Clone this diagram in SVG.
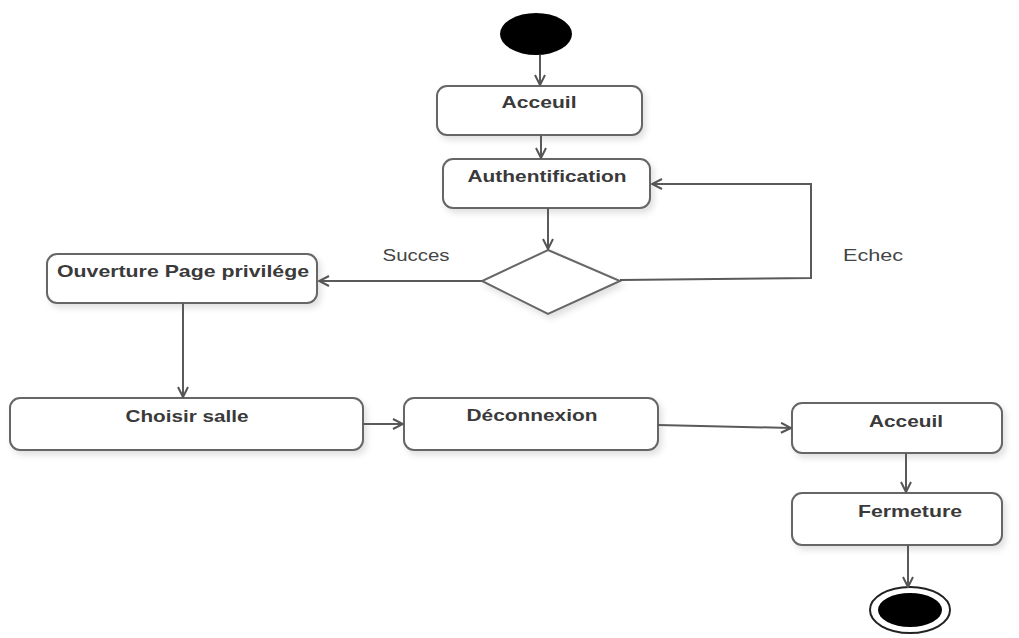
<svg xmlns="http://www.w3.org/2000/svg" width="1019" height="638" viewBox="0 0 1019 638">
  <defs>
    <marker id="arrow" viewBox="0 0 12 12" refX="11" refY="6" markerWidth="12" markerHeight="12" markerUnits="userSpaceOnUse" orient="auto">
      <polyline points="1,1 11,6 1,11" fill="none" stroke="#555" stroke-width="2"/>
    </marker>
    <filter id="shadow" x="-5%" y="-10%" width="115%" height="140%">
      <feDropShadow dx="3" dy="4" stdDeviation="3" flood-color="#000" flood-opacity="0.12"/>
    </filter>
  </defs>
  <style>
    .box { fill: #fff; stroke: #666; stroke-width: 2; filter: url(#shadow); }
    .lbl { font-family: "Liberation Sans", Arial, sans-serif; font-weight: bold; font-size: 17px; fill: #3a3a3a; text-anchor: middle; }
    .guard { font-family: "Liberation Sans", Arial, sans-serif; font-size: 16px; fill: #444; text-anchor: middle; }
    .edge { fill: none; stroke: #5a5a5a; stroke-width: 2; marker-end: url(#arrow); }
  </style>
  <rect width="1019" height="638" fill="#fff"/>

  <g id="start">
    <ellipse cx="536" cy="34" rx="36" ry="21" fill="#000"/>
  </g>

  <g id="acceuil1">
    <rect class="box" x="437" y="86" width="205" height="49" rx="10"/>
    <text class="lbl" x="539" y="108" textLength="75" lengthAdjust="spacingAndGlyphs">Acceuil</text>
  </g>

  <g id="authentification">
    <rect class="box" x="443" y="159" width="207" height="49" rx="10"/>
    <text class="lbl" x="547" y="182" textLength="159" lengthAdjust="spacingAndGlyphs">Authentification</text>
  </g>

  <g id="decision">
    <polygon class="box" points="548,250 620,281 548,314 482,281"/>
  </g>

  <g id="ouverture">
    <rect class="box" x="47" y="254" width="270" height="49" rx="10"/>
    <text class="lbl" x="183" y="277" textLength="252" lengthAdjust="spacingAndGlyphs">Ouverture Page privilége</text>
  </g>

  <g id="choisir">
    <rect class="box" x="10" y="398" width="353" height="52" rx="10"/>
    <text class="lbl" x="187" y="422" textLength="123" lengthAdjust="spacingAndGlyphs">Choisir salle</text>
  </g>

  <g id="deconnexion">
    <rect class="box" x="404" y="398" width="254" height="52" rx="10"/>
    <text class="lbl" x="532" y="421" textLength="131" lengthAdjust="spacingAndGlyphs">Déconnexion</text>
  </g>

  <g id="acceuil2">
    <rect class="box" x="792" y="403" width="210" height="50" rx="10"/>
    <text class="lbl" x="906" y="427" textLength="74" lengthAdjust="spacingAndGlyphs">Acceuil</text>
  </g>

  <g id="fermeture">
    <rect class="box" x="792" y="493" width="210" height="52" rx="10"/>
    <text class="lbl" x="910" y="517" textLength="104" lengthAdjust="spacingAndGlyphs">Fermeture</text>
  </g>

  <g id="end">
    <ellipse cx="910" cy="610" rx="40" ry="23" fill="#fff" stroke="#222" stroke-width="2"/>
    <ellipse cx="910" cy="610" rx="32" ry="17" fill="#000"/>
  </g>

  <g id="connectors">
    <line class="edge" x1="540" y1="55" x2="540" y2="85"/>
    <line class="edge" x1="541" y1="135" x2="541" y2="158"/>
    <line class="edge" x1="548" y1="208" x2="548" y2="249"/>
    <polyline class="edge" points="620,280 811,278 811,184 652,184"/>
    <line class="edge" x1="482" y1="281" x2="319" y2="281"/>
    <line class="edge" x1="183" y1="303" x2="183" y2="397"/>
    <line class="edge" x1="363" y1="424" x2="403" y2="424"/>
    <line class="edge" x1="658" y1="425" x2="791" y2="428"/>
    <line class="edge" x1="906" y1="453" x2="906" y2="492"/>
    <line class="edge" x1="908" y1="545" x2="908" y2="587"/>
  </g>

  <g id="guards">
    <text class="guard" x="416" y="261" textLength="67" lengthAdjust="spacingAndGlyphs">Succes</text>
    <text class="guard" x="873" y="261" textLength="60" lengthAdjust="spacingAndGlyphs">Echec</text>
  </g>
</svg>
